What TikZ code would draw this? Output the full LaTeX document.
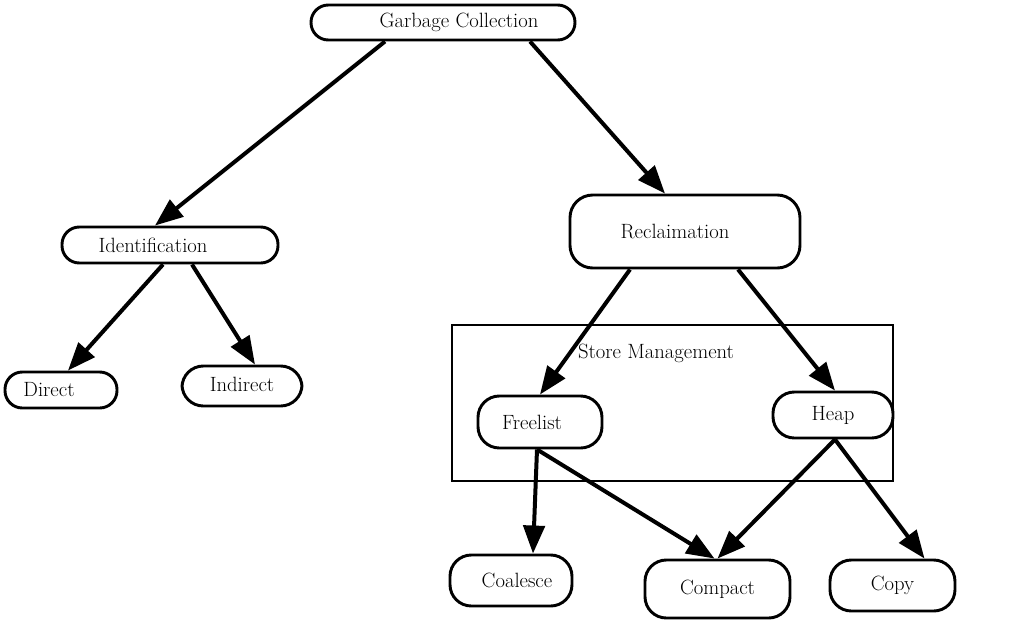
\documentclass[tikz,border=0pt]{standalone}
\usetikzlibrary{arrows.meta,calc}
% move a label sideways inside its box without changing the box size
\newcommand\offsettext[2]{\kern#1\relax#2\kern-#1\relax}
\begin{document}
\begin{tikzpicture}[x=0.75pt,y=-0.75pt,
  tnode/.style={draw, fill=white, line width=2.2pt, rounded corners=13pt,
    font=\fontsize{15.5}{18}\selectfont, inner sep=0pt},
  round/.style={rounded corners=16pt},
  conn/.style={line width=3pt, -{Triangle[length=21pt,width=16pt]}},
  frame/.style={draw, line width=1.1pt, inner sep=0pt},
]
\useasboundingbox (0,0) rectangle (1011,626);

% store management container
\node[frame, minimum width=330.75pt, minimum height=117pt] (store) at (672.5,403) {};
\node[font=\fontsize{15.5}{18}\selectfont] (storelbl) at (656,353) {Store Management};

% nodes
\node[tnode, minimum width=198pt, minimum height=26.25pt] (gc) at (443,22.5) {\offsettext{12pt}{Garbage Collection}};
\node[tnode, minimum width=162pt, minimum height=27pt] (ident) at (170,245) {\offsettext{-12.75pt}{Identification}};
\node[tnode, rounded corners=17pt, minimum width=172.5pt, minimum height=54.75pt] (recl) at (685,231.5) {\offsettext{-7.5pt}{Reclaimation}};
\node[tnode, minimum width=84pt, minimum height=27pt] (direct) at (61,390) {\offsettext{-9pt}{Direct}};
\node[tnode, round, minimum width=90pt, minimum height=30pt] (indirect) at (242,386) {\raisebox{3pt}{Indirect}};
\node[tnode, round, minimum width=93pt, minimum height=39pt] (freelist) at (540,422) {\offsettext{-6pt}{Freelist}};
\node[tnode, round, minimum width=90pt, minimum height=34.5pt] (heap) at (833,415) {\raisebox{3pt}{Heap}};
\node[tnode, round, minimum width=91.5pt, minimum height=38.25pt] (coalesce) at (511,580.5) {\offsettext{4.5pt}{Coalesce}};
\node[tnode, round, minimum width=108.75pt, minimum height=43.5pt] (compact) at (717.5,589) {Compact};
\node[tnode, round, minimum width=93.75pt, minimum height=38.25pt] (copy) at (892.5,585.5) {Copy};

% connectors
\draw[conn] ($(gc.south)+(-58,0)$) -- ($(ident.north)+(-15,0)$);
\draw[conn] ($(gc.south)+(87,0)$) -- ($(recl.north)+(-20,0)$);
\draw[conn] ($(ident.south)+(-7,0)$) -- ($(direct.north)+(7,0)$);
\draw[conn] ($(ident.south)+(22,0)$) -- ($(indirect.north)+(13,0)$);
\draw[conn] ($(recl.south)+(-55,0)$) -- (freelist.north);
\draw[conn] ($(recl.south)+(53,0)$) -- ($(heap.north)+(2,0)$);
\draw[conn] ($(freelist.south)+(-3,0)$) -- ($(coalesce.north)+(22,0)$);
\draw[conn] ($(freelist.south)+(-3,0)$) -- ($(compact.north)+(-3,0)$);
\draw[conn] ($(heap.south)+(2,0)$) -- (compact.north);
\draw[conn] ($(heap.south)+(2,0)$) -- ($(copy.north)+(32,0)$);
\end{tikzpicture}
\end{document}
